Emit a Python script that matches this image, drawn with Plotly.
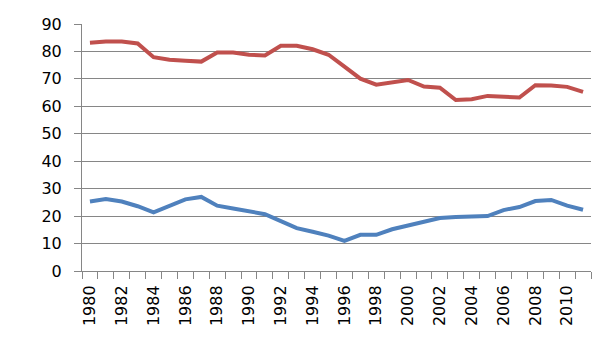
import plotly.graph_objects as go

# Years on the category axis
years = list(range(1980, 2012))

# Upper series (red)
series_red = [83.2, 83.6, 83.6, 82.9, 77.9, 77.0, 76.6, 76.3, 79.6, 79.6,
              78.8, 78.5, 82.1, 82.1, 80.8, 78.8, 74.5, 70.1, 67.9, 68.9,
              69.6, 67.2, 66.8, 62.3, 62.6, 63.8, 63.4, 63.2, 67.7, 67.6,
              67.1, 65.3]

# Lower series (blue)
series_blue = [25.3, 26.2, 25.3, 23.6, 21.4, 23.7, 26.1, 27.0, 23.8, 22.8,
               21.9, 20.7, 18.2, 15.6, 14.3, 12.9, 11.0, 13.2, 13.2, 15.2,
               16.6, 18.0, 19.3, 19.7, 20.0, 20.0, 22.2, 23.3, 25.5, 25.9,
               23.8, 22.3]

tick_years = list(range(1980, 2011, 2))
y_ticks = list(range(0, 91, 10))

GRID = "#868686"
FONT = dict(family="DejaVu Sans", size=16, color="#000000")

fig = go.Figure()
fig.add_trace(go.Scatter(x=years, y=series_red, mode="lines",
                         line=dict(color="#C0504D", width=4), showlegend=False))
fig.add_trace(go.Scatter(x=years, y=series_blue, mode="lines",
                         line=dict(color="#4F81BD", width=4), showlegend=False))

fig.update_layout(
    width=613, height=342,
    margin=dict(l=82, r=22, t=24, b=71),
    paper_bgcolor="white", plot_bgcolor="white",
    font=FONT,
    xaxis=dict(
        range=[years[0] - 0.5, years[-1] + 0.5],
        tickvals=tick_years, ticktext=[str(y) for y in tick_years],
        tickangle=-90, ticks="", showgrid=False, zeroline=False,
        showline=True, linecolor=GRID, linewidth=1,
        ticklabelstandoff=7,
        minor=dict(tick0=years[0] - 0.5, dtick=1, ticks="outside",
                   ticklen=7, tickcolor=GRID, showgrid=False),
        tickfont=FONT,
    ),
    yaxis=dict(
        range=[0, 90], tickvals=y_ticks,
        ticks="outside", ticklen=7, tickcolor=GRID,
        showgrid=True, gridcolor=GRID, gridwidth=1, zeroline=False,
        showline=True, linecolor=GRID, linewidth=1,
        ticklabelstandoff=9,
        tickfont=FONT,
    ),
)

fig.write_html("out.html")
